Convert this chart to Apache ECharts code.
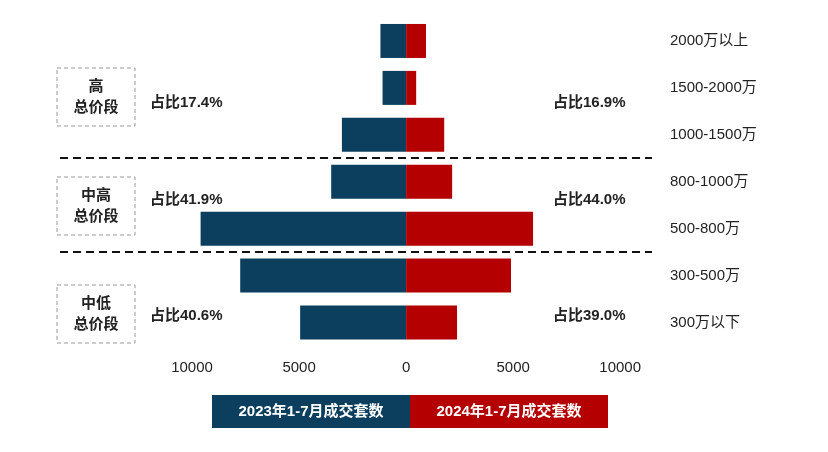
<!DOCTYPE html>
<html><head><meta charset="utf-8">
<script src="https://cdn.jsdelivr.net/npm/echarts@6/dist/echarts.min.js"></script>
<style>html,body{margin:0;padding:0;background:#fff}#c{width:828px;height:452px}</style>
</head><body><div id="c"></div>
<script>
// 价格段（自上而下）
var categories = ['2000万以上', '1500-2000万', '1000-1500万', '800-1000万', '500-800万', '300-500万', '300万以下'];
var sales2023 = [1200, 1100, 3000, 3500, 9600, 7750, 4950];
var sales2024 = [930, 470, 1780, 2150, 5930, 4900, 2380];
var seriesNames = ['2023年1-7月成交套数', '2024年1-7月成交套数'];
var groupNames = ['高\n总价段', '中高\n总价段', '中低\n总价段'];
var share2023 = ['占比17.4%', '占比41.9%', '占比40.6%'];
var share2024 = ['占比16.9%', '占比44.0%', '占比39.0%'];

var BLUE = '#0c3f5e', RED = '#b40000';
var font = '"Liberation Sans", "Noto Sans CJK SC", sans-serif';
var chart = echarts.init(document.getElementById('c'));

var graphics = [];
var groupY = [97, 206, 314];
var shareY = [103, 200, 316];
for (var i = 0; i < 3; i++) {
    graphics.push({type: 'rect', shape: {x: 57, y: groupY[i] - 29, width: 78, height: 58},
        style: {fill: 'none', stroke: '#999', lineWidth: 1, lineDash: [4, 3]}});
    graphics.push({type: 'text', x: 96, y: groupY[i], style: {text: groupNames[i], font: 'bold 15px ' + font,
        fill: '#222', align: 'center', verticalAlign: 'middle', lineHeight: 21}});
    graphics.push({type: 'text', x: 150, y: shareY[i], style: {text: share2023[i], font: 'bold 15px ' + font,
        fill: '#222', verticalAlign: 'middle'}});
    graphics.push({type: 'text', x: 553, y: shareY[i], style: {text: share2024[i], font: 'bold 15px ' + font,
        fill: '#222', verticalAlign: 'middle'}});
}
[158, 252].forEach(function (y) {
    graphics.push({type: 'line', shape: {x1: 60, y1: y, x2: 652, y2: y},
        style: {stroke: '#111', lineWidth: 2, lineDash: [8, 5]}});
});
graphics.push({type: 'rect', shape: {x: 212, y: 395, width: 198, height: 33}, style: {fill: BLUE}});
graphics.push({type: 'rect', shape: {x: 410, y: 395, width: 198, height: 33}, style: {fill: RED}});
graphics.push({type: 'text', x: 311, y: 412, style: {text: seriesNames[0], font: 'bold 15px ' + font,
    fill: '#fff', align: 'center', verticalAlign: 'middle'}});
graphics.push({type: 'text', x: 509, y: 412, style: {text: seriesNames[1], font: 'bold 15px ' + font,
    fill: '#fff', align: 'center', verticalAlign: 'middle'}});

chart.setOption({
    animation: false,
    grid: {left: 85, right: 165, top: 17.5, bottom: 106},
    xAxis: {
        type: 'value', min: -15000, max: 12000, interval: 5000,
        splitLine: {show: false}, axisLine: {show: false}, axisTick: {show: false},
        axisLabel: {color: '#222', fontSize: 15, fontFamily: font, margin: 14,
            formatter: function (v) { return Math.abs(v) <= 10000 ? String(Math.abs(v)) : ''; }}
    },
    yAxis: {
        type: 'category', data: categories, inverse: true, position: 'right',
        axisLine: {show: false}, axisTick: {show: false},
        axisLabel: {color: '#222', fontSize: 15, fontFamily: font, margin: 7, align: 'left'}
    },
    series: [
        {name: seriesNames[0], type: 'bar', stack: 'a', barWidth: 34, itemStyle: {color: BLUE},
            data: sales2023.map(function (v) { return -v; })},
        {name: seriesNames[1], type: 'bar', stack: 'a', barWidth: 34, itemStyle: {color: RED},
            data: sales2024}
    ],
    graphic: graphics
});
</script></body></html>
